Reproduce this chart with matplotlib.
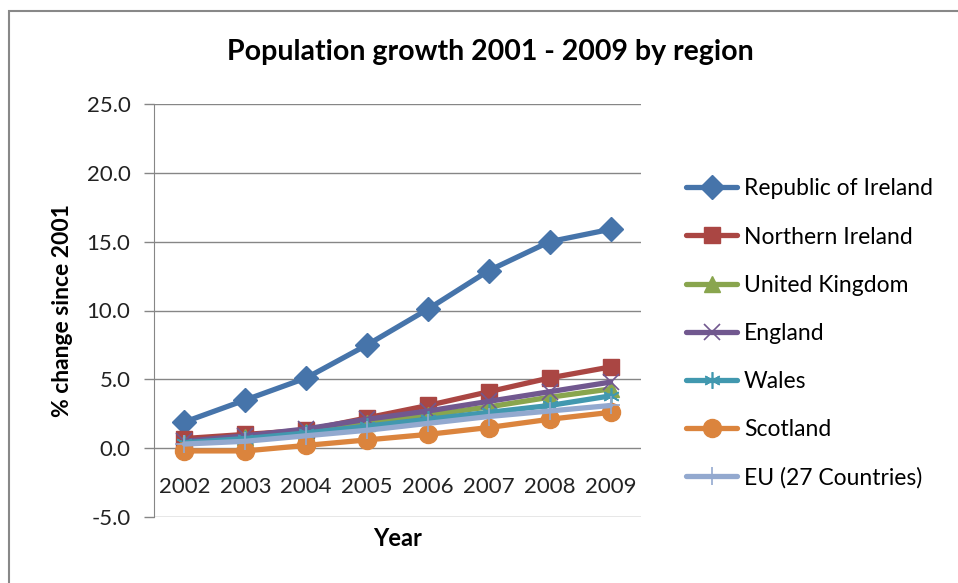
import matplotlib.pyplot as plt
from matplotlib.patches import Rectangle

plt.rcParams['font.family'] = ['Lato', 'DejaVu Sans']

# Data: % change in population since 2001
years = ['2002', '2003', '2004', '2005', '2006', '2007', '2008', '2009']
ireland = [1.9, 3.5, 5.1, 7.5, 10.1, 12.9, 15.0, 15.9]
n_ireland = [0.7, 1.0, 1.3, 2.2, 3.1, 4.1, 5.1, 5.9]
uk = [0.4, 0.8, 1.2, 1.8, 2.4, 3.0, 3.7, 4.3]
england = [0.5, 0.9, 1.4, 2.1, 2.7, 3.4, 4.1, 4.8]
wales = [0.4, 0.7, 1.1, 1.6, 2.1, 2.6, 3.1, 3.8]
scotland = [-0.2, -0.2, 0.2, 0.6, 1.0, 1.5, 2.1, 2.6]
eu27 = [0.3, 0.5, 0.9, 1.3, 1.8, 2.3, 2.7, 3.1]

series = [
    ("Republic of Ireland", ireland, '#4674AA', 'D', 12),
    ("Northern Ireland", n_ireland, '#AA4643', 's', 12),
    ("United Kingdom", uk, '#89A54E', '^', 12),
    ("England", england, '#71588F', 'x', 11),
    ("Wales", wales, '#4198AF', (6, 2, 0), 12),
    ("Scotland", scotland, '#DB843D', 'o', 13),
    ("EU (27 Countries)", eu27, '#93A9CF', '+', 13),
]

fig = plt.figure(figsize=(9.58, 5.83), dpi=100)
ax = fig.add_axes([154 / 958, 1 - 517 / 583, 487 / 958, 413 / 583])

x = range(len(years))
for name, vals, col, mk, ms in series:
    thin = mk in ('x', '+', (6, 2, 0))
    ax.plot(x, vals, color=col, lw=3.8, marker=mk, ms=ms,
            mec=col, mfc=col, mew=1.2 if thin else 1, label=name,
            solid_capstyle='round', solid_joinstyle='round')

ax.set_xlim(-0.5, len(years) - 0.5)
ax.set_ylim(-5, 25)
ax.set_yticks(range(-5, 26, 5))
ax.set_yticklabels([f"{v:.1f}" for v in range(-5, 26, 5)], fontsize=16,
                   color='#222222')
ax.tick_params(axis='y', length=7, width=1, color='#868686', pad=10)
ax.yaxis.grid(True, color='#868686', lw=1)
ax.set_axisbelow(True)
for side in ('top', 'right', 'bottom'):
    ax.spines[side].set_visible(False)
ax.spines['left'].set_color('#868686')

# category axis crosses at zero
ax.set_xticks([])
sec = ax.secondary_xaxis(5 / 30)
sec.set_xticks(list(x))
sec.set_xticklabels(years, fontsize=16, color='#222222')
sec.tick_params(length=0, pad=21)
sec.spines['bottom'].set_visible(False)

ax.set_ylabel("% change since 2001", fontsize=16.5, fontweight='bold',
              labelpad=10)
fig.text(398 / 958, 1 - 538 / 583, "Year", fontsize=17, fontweight='bold',
         ha='center', va='center')
fig.text(490 / 958, 1 - 52 / 583, "Population growth 2001 - 2009 by region",
         fontsize=20.5, fontweight='bold', ha='center', va='center')

fig.legend(loc='upper left', bbox_to_anchor=(675 / 958, 1 - 167 / 583),
           frameon=False, fontsize=16.5, handlelength=2.2, handletextpad=0.3,
           labelspacing=1.18, borderpad=0)

# chart border
fig.patches.append(Rectangle((9 / 958, -0.1), 1.1, 0.1 + (1 - 11 / 583),
                             transform=fig.transFigure, fill=False,
                             ec='#888888', lw=1.5))

fig.savefig("out.png", dpi=100)
